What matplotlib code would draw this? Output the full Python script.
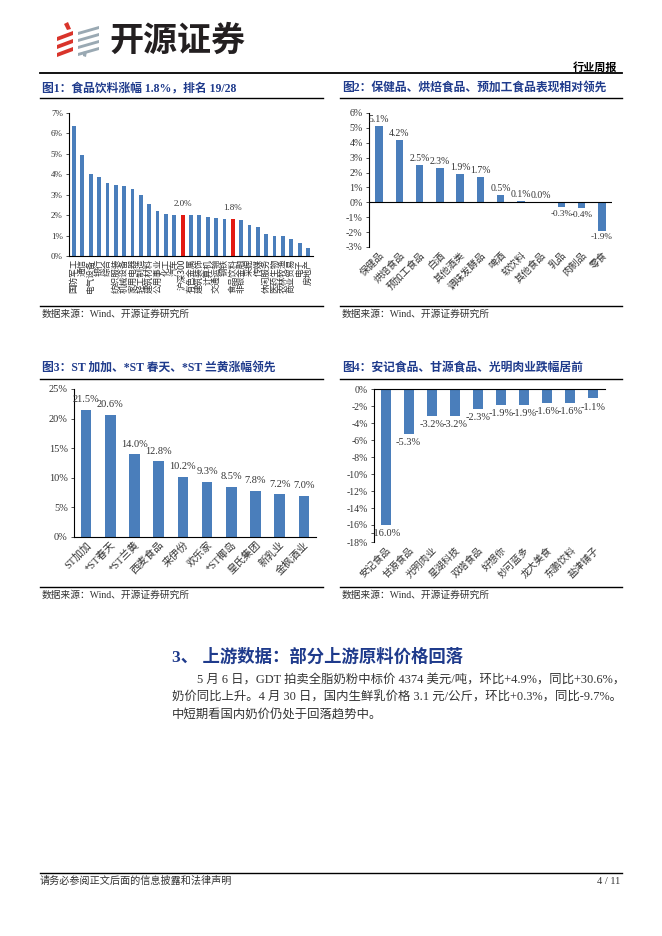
import matplotlib
matplotlib.use('Agg')
import matplotlib.pyplot as plt
from matplotlib.lines import Line2D
from matplotlib.patches import Polygon

plt.rcParams['font.family'] = ['Liberation Serif', 'Noto Sans CJK SC']
CJK = ['Noto Sans CJK SC', 'DejaVu Sans']
MIX = ['Liberation Serif', 'Noto Sans CJK SC']

W, H = 662, 936
BLUE = '#4A7EBB'
RED = '#E31A12'
NAVY = '#1F3B8C'
TXT = '#333333'

## data
# fig 1: industry weekly change (%)
ind_names = ['国防军工', '通信', '电气设备', '银行', '综合', '纺织服装', '机械设备',
             '家用电器', '轻工制造', '建筑材料', '公用事业', '化工', '汽车', '沪深300',
             '有色金属', '建筑装饰', '计算机', '交通运输', '钢铁', '食品饮料', '非银金融',
             '采掘', '传媒', '休闲服务', '医药生物', '农林牧渔', '商业贸易', '电子', '房地产']
ind_chg = [6.35, 4.95, 4.02, 3.88, 3.55, 3.47, 3.42, 3.30, 3.00, 2.54, 2.22, 2.08, 2.03,
           2.00, 2.00, 1.99, 1.93, 1.86, 1.82, 1.80, 1.77, 1.52, 1.40, 1.10, 1.00, 0.97,
           0.85, 0.62, 0.37]
ind_red = ['沪深300', '食品饮料']

# fig 2: sub-sector change (%)
sub_names = ['保健品', '烘焙食品', '预加工食品', '白酒', '其他酒类', '调味发酵品',
             '啤酒', '软饮料', '其他食品', '乳品', '肉制品', '零食']
sub_chg = [5.1, 4.2, 2.5, 2.3, 1.9, 1.7, 0.5, 0.1, 0.0, -0.3, -0.4, -1.9]

# fig 3: top gainers (%)
up_names = ['ST加加', '*ST春天', '*ST兰黄', '西麦食品', '来伊份', '欢乐家',
            '*ST椰岛', '皇氏集团', '新乳业', '金枫酒业']
up_chg = [21.5, 20.6, 14.0, 12.8, 10.2, 9.3, 8.5, 7.8, 7.2, 7.0]

# fig 4: top losers (%)
dn_names = ['安记食品', '甘源食品', '光明肉业', '星湖科技', '双塔食品', '好想你',
            '妙可蓝多', '龙大美食', '东鹏饮料', '盐津铺子']
dn_chg = [-16.0, -5.3, -3.2, -3.2, -2.3, -1.9, -1.9, -1.6, -1.6, -1.1]

titles = ['图1：食品饮料涨幅 1.8%，排名 19/28',
          '图2：保健品、烘焙食品、预加工食品表现相对领先',
          '图3：ST 加加、*ST 春天、*ST 兰黄涨幅领先',
          '图4：安记食品、甘源食品、光明肉业跌幅居前']
source = '数据来源：Wind、开源证券研究所'

body = ['5 月 6 日，GDT 拍卖全脂奶粉中标价 4374 美元/吨，环比+4.9%，同比+30.6%，',
        '奶价同比上升。4 月 30 日，国内生鲜乳价格 3.1 元/公斤，环比+0.3%，同比-9.7%。',
        '中短期看国内奶价仍处于回落趋势中。']


fig = plt.figure(figsize=(W / 100, H / 100), dpi=100)


def fx(x):
    return x / W


def fy(y):
    return 1 - y / H


def hline(x0, x1, y, lw=0.9, color='black'):
    fig.add_artist(Line2D([fx(x0), fx(x1)], [fy(y), fy(y)], transform=fig.transFigure,
                          color=color, lw=lw))


def text(x, y, s, **kw):
    fig.text(fx(x), fy(y), s, **kw)


def axes_px(x0, y0, x1, y1):
    return fig.add_axes([fx(x0), fy(y1), (x1 - x0) / W, (y1 - y0) / H])


def pct(v, pos=None):
    return '%d%%' % v


## page header: logo
for k in range(3):
    y = 32 + k * 8
    fig.add_artist(Polygon([(fx(57), fy(y + 5)), (fx(73), fy(y - 1)), (fx(73), fy(y + 3)),
                            (fx(57), fy(y + 9))], closed=True, transform=fig.transFigure,
                           color='#D9342B', lw=0))
fig.add_artist(Polygon([(fx(64), fy(24)), (fx(68), fy(22)), (fx(71), fy(29)), (fx(67), fy(30))],
                       closed=True, transform=fig.transFigure, color='#D9342B', lw=0))
for k in range(4):
    y = 27 + k * 7
    fig.add_artist(Polygon([(fx(78), fy(y + 5)), (fx(99), fy(y - 1)), (fx(99), fy(y + 2)),
                            (fx(78), fy(y + 8))], closed=True, transform=fig.transFigure,
                           color='#9AA9B3', lw=0))
fig.add_artist(Polygon([(fx(83), fy(52)), (fx(87), fy(51)), (fx(86), fy(57)), (fx(83), fy(56))],
                       closed=True, transform=fig.transFigure, color='#9AA9B3', lw=0))
text(109, 40, '开源证券', family=CJK, fontsize=24.5, fontweight='bold', color='#231F20',
     va='center', ha='left')

text(617, 67, '行业周报', family=CJK, fontsize=8, fontweight='bold', color='black',
     ha='right', va='center')
hline(40, 622, 73, lw=1.3)

## chart titles, rules, sources
for x0, x1, ty, uy, sy, t in [(40, 323, 89, 98, 314, titles[0]),
                              (340, 622, 89, 98, 314, titles[1]),
                              (40, 323, 368, 379, 595, titles[2]),
                              (340, 622, 368, 379, 595, titles[3])]:
    text(x0 + 2, ty, t, family=MIX, fontsize=8.5, fontweight='bold', color=NAVY,
         ha='left', va='center')
    hline(x0, x1, uy, lw=1.0)
    hline(x0, x1, sy - 8, lw=1.0)
    text(x0 + 2, sy, source, family=MIX, fontsize=7, color=TXT, ha='left', va='center')


def style(ax, fs):
    for s in ['top', 'right']:
        ax.spines[s].set_visible(False)
    ax.spines['left'].set_linewidth(0.8)
    ax.spines['bottom'].set_linewidth(0.8)
    ax.tick_params(axis='y', labelsize=fs, length=2.5, width=0.6, pad=2, colors=TXT)
    ax.tick_params(axis='x', length=0, pad=2)
    ax.set_facecolor('none')


## fig 1
ax1 = axes_px(69, 113, 313, 256)
cols = [RED if n in ind_red else BLUE for n in ind_names]
ax1.bar(range(len(ind_names)), ind_chg, width=0.45, color=cols)
ax1.set_xlim(-0.6, len(ind_names) - 0.4)
ax1.set_ylim(0, 7)
ax1.set_yticks(range(0, 8))
ax1.yaxis.set_major_formatter(pct)
ax1.set_xticks(range(len(ind_names)))
ax1.set_xticklabels(ind_names, rotation=90, family=CJK, fontsize=6.2, color=TXT)
style(ax1, 6.5)
for i, n in enumerate(ind_names):
    if n in ind_red:
        ax1.annotate('%.1f%%' % ind_chg[i], (i, ind_chg[i]), xytext=(0, 5),
                     textcoords='offset points', ha='center', va='bottom', fontsize=6.5,
                     color=TXT)

## fig 2
ax2 = axes_px(369, 113, 612, 247)
x2 = range(len(sub_names))
ax2.bar(x2, sub_chg, width=0.36, color=BLUE)
ax2.set_xlim(-0.5, len(sub_names) - 0.5)
ax2.set_ylim(-3, 6)
ax2.set_yticks(range(-3, 7))
ax2.yaxis.set_major_formatter(pct)
ax2.set_xticks(list(x2))
ax2.set_xticklabels(sub_names, rotation=45, ha='right', rotation_mode='anchor',
                    family=CJK, fontsize=7, color=TXT)
style(ax2, 7.2)
ax2.spines['bottom'].set_visible(False)
ax2.axhline(0, color='black', lw=0.8)
for i, v in enumerate(sub_chg):
    if v >= 0:
        ax2.annotate('%.1f%%' % v, (i, v), xytext=(0, 1.5), textcoords='offset points',
                     ha='center', va='bottom', fontsize=7, color=TXT)
    else:
        ax2.annotate('%.1f%%' % v, (i, v), xytext=(0, -2), textcoords='offset points',
                     ha='center', va='top', fontsize=6.6, color=TXT)

## fig 3
ax3 = axes_px(74, 389, 316, 537)
x3 = range(len(up_names))
ax3.bar(x3, up_chg, width=0.44, color=BLUE)
ax3.set_xlim(-0.5, len(up_names) - 0.5)
ax3.set_ylim(0, 25)
ax3.set_yticks(range(0, 30, 5))
ax3.yaxis.set_major_formatter(pct)
ax3.set_xticks(list(x3))
ax3.set_xticklabels(up_names, rotation=45, ha='right', rotation_mode='anchor',
                    family=MIX, fontsize=7.5, color=TXT)
style(ax3, 7.5)
for i, v in enumerate(up_chg):
    ax3.annotate('%.1f%%' % v, (i, v), xytext=(0, 4), textcoords='offset points',
                 ha='center', va='bottom', fontsize=7.5, color=TXT)

## fig 4
ax4 = axes_px(374, 389, 605, 542)
x4 = range(len(dn_names))
ax4.bar(x4, dn_chg, width=0.43, color=BLUE)
ax4.set_xlim(-0.5, len(dn_names) - 0.5)
ax4.set_ylim(-18, 0)
ax4.set_yticks(range(-18, 1, 2))
ax4.yaxis.set_major_formatter(pct)
ax4.set_xticks(list(x4))
ax4.set_xticklabels(dn_names, rotation=45, ha='right', rotation_mode='anchor',
                    family=CJK, fontsize=7, color=TXT)
style(ax4, 7)
ax4.spines['bottom'].set_visible(False)
ax4.spines['top'].set_visible(True)
ax4.spines['top'].set_linewidth(0.8)
for i, v in enumerate(dn_chg):
    ax4.annotate('%.1f%%' % v, (i, v), xytext=(0, -3), textcoords='offset points',
                 ha='center', va='top', fontsize=7.5, color=TXT)

## section text
text(172, 657, '3、 上游数据：部分上游原料价格回落', family=MIX, fontsize=12.5,
     fontweight='bold', color=NAVY, ha='left', va='center')
text(197, 680, body[0], family=MIX, fontsize=8.9, color=TXT, ha='left', va='center')
text(172, 698, body[1], family=MIX, fontsize=8.9, color=TXT, ha='left', va='center')
text(172, 716, body[2], family=MIX, fontsize=8.9, color=TXT, ha='left', va='center')

## footer
hline(40, 622, 873, lw=1.0)
text(40, 881, '请务必参阅正文后面的信息披露和法律声明', family=CJK, fontsize=7.3,
     color=TXT, ha='left', va='center')
text(620, 881, '4 / 11', family=MIX, fontsize=7.5, color=TXT, ha='right', va='center')

fig.savefig('out.png', dpi=100, facecolor='white')
